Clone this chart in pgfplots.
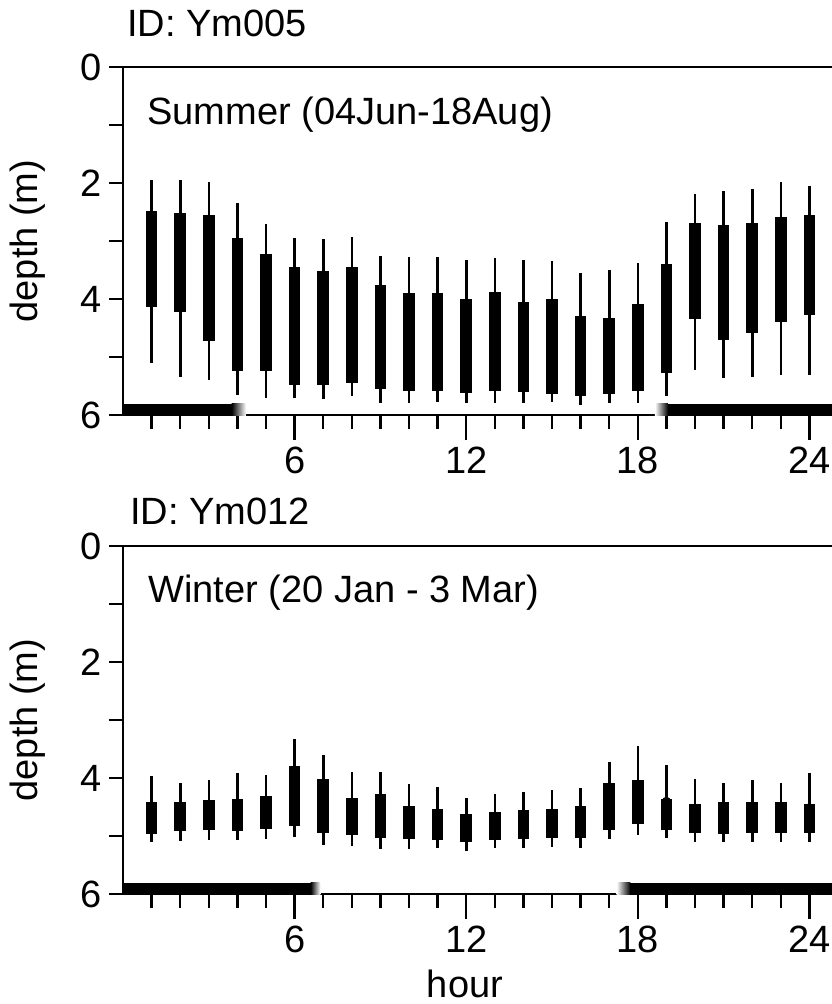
\documentclass[border=0pt]{standalone}
\usepackage{fontspec}
\setmainfont{Liberation Sans}
\usepackage{pgfplots}
\usepackage{pgfplotstable}
\pgfplotsset{compat=1.18}

\pgfplotstableread{
h wt bt bb wb
1 1.95 2.49 4.13 5.10
2 1.95 2.52 4.22 5.34
3 1.98 2.55 4.72 5.40
4 2.34 2.95 5.25 5.66
5 2.71 3.22 5.25 5.71
6 2.95 3.45 5.48 5.71
7 2.97 3.52 5.48 5.72
8 2.93 3.45 5.45 5.67
9 3.25 3.75 5.55 5.79
10 3.27 3.90 5.58 5.80
11 3.27 3.90 5.58 5.78
12 3.33 4.00 5.62 5.80
13 3.30 3.88 5.58 5.80
14 3.33 4.05 5.60 5.80
15 3.35 4.00 5.63 5.78
16 3.55 4.30 5.68 5.83
17 3.50 4.32 5.63 5.80
18 3.38 4.08 5.58 5.80
19 2.67 3.40 5.28 5.67
20 2.19 2.69 4.34 5.22
21 2.14 2.72 4.70 5.36
22 2.10 2.69 4.58 5.34
23 1.98 2.58 4.40 5.31
24 2.05 2.55 4.28 5.31
}\summer

\pgfplotstableread{
h wt bt bb wb
1 3.97 4.42 4.96 5.11
2 4.08 4.41 4.92 5.09
3 4.03 4.38 4.90 5.07
4 3.92 4.36 4.92 5.07
5 3.94 4.31 4.88 5.06
6 3.33 3.80 4.82 5.02
7 3.60 4.02 4.94 5.15
8 3.89 4.34 4.99 5.17
9 3.89 4.28 5.03 5.23
10 4.11 4.48 5.05 5.23
11 4.15 4.53 5.07 5.20
12 4.34 4.62 5.10 5.26
13 4.28 4.58 5.07 5.21
14 4.24 4.56 5.05 5.21
15 4.21 4.54 5.03 5.19
16 4.17 4.48 5.03 5.20
17 3.73 4.08 4.90 5.06
18 3.44 4.03 4.79 4.99
19 3.77 4.36 4.90 5.03
20 4.02 4.44 4.94 5.10
21 4.08 4.42 4.96 5.10
22 4.04 4.41 4.94 5.10
23 4.08 4.42 4.94 5.10
24 3.92 4.45 4.94 5.10
}\winter

\newcommand\bigfont{\fontsize{19}{22}\selectfont}

\pgfplotsset{
  frame/.style={
    scale only axis, width=356.07pt, height=174pt,
    xmin=0, xmax=24.9, ymin=0, ymax=6, y dir=reverse,
    tick align=outside,
    tick style={line width=1.2pt, black},
    xtick pos=left, ytick pos=left,
    tick label style={font=\bigfont},
    /pgf/number format/assume math mode=true,
  },
  panel/.style={frame,
    axis line style={line width=1.2pt},
    xtick={1,...,24}, xticklabels={},
    ytick={0,1,...,6}, yticklabels={0,,2,,4,,6},
    major tick length=7pt,
  },
  majorx/.style={frame,
    axis line style={draw=none},
    xtick={6,12,18,24}, ytick=\empty,
    major tick length=12.5pt,
  },
  whisk/.style={only marks, mark=none, forget plot,
    error bars/.cd, y dir=both, y explicit,
    error bar style={line width=1.3pt, black}, error mark=none},
  boxs/.style={only marks, mark=none, forget plot,
    error bars/.cd, y dir=both, y explicit,
    error bar style={line width=5.8pt, black}, error mark=none},
}

\begin{document}
\begin{tikzpicture}
\path[use as bounding box] (0,0) rectangle (415.5pt,-502pt);

\begin{axis}[panel, at={(239.535pt,-120.5pt)}, anchor=center]
  \addplot[fill=black, draw=none] coordinates {(0,5.81) (3.8,5.81) (3.8,6) (0,6)} --cycle;
  \addplot[left color=black, right color=white, draw=none] coordinates {(3.8,5.81) (4.3,5.81) (4.3,6) (3.8,6)} --cycle;
  \addplot[left color=white, right color=black, draw=none] coordinates {(18.6,5.81) (19.06,5.81) (19.06,6) (18.6,6)} --cycle;
  \addplot[fill=black, draw=none] coordinates {(19.06,5.81) (24.9,5.81) (24.9,6) (19.06,6)} --cycle;
  \addplot[whisk] table[x=h, y expr=(\thisrow{wt}+\thisrow{wb})/2, y error expr=(\thisrow{wb}-\thisrow{wt})/2] {\summer};
  \addplot[boxs] table[x=h, y expr=(\thisrow{bt}+\thisrow{bb})/2, y error expr=(\thisrow{bb}-\thisrow{bt})/2] {\summer};
\end{axis}
\begin{axis}[majorx, at={(239.535pt,-120.5pt)}, anchor=center]
\end{axis}

\begin{axis}[panel, at={(239.535pt,-360pt)}, anchor=center]
  \addplot[fill=black, draw=none] coordinates {(0,5.81) (6.56,5.81) (6.56,6) (0,6)} --cycle;
  \addplot[left color=black, right color=white, draw=none] coordinates {(6.56,5.81) (6.9,5.81) (6.9,6) (6.56,6)} --cycle;
  \addplot[left color=white, right color=black, draw=none] coordinates {(17.26,5.81) (17.74,5.81) (17.74,6) (17.26,6)} --cycle;
  \addplot[fill=black, draw=none] coordinates {(17.74,5.81) (24.9,5.81) (24.9,6) (17.74,6)} --cycle;
  \addplot[whisk] table[x=h, y expr=(\thisrow{wt}+\thisrow{wb})/2, y error expr=(\thisrow{wb}-\thisrow{wt})/2] {\winter};
  \addplot[boxs] table[x=h, y expr=(\thisrow{bt}+\thisrow{bb})/2, y error expr=(\thisrow{bb}-\thisrow{bt})/2] {\winter};
\end{axis}
\begin{axis}[majorx, at={(239.535pt,-360pt)}, anchor=center]
\end{axis}

\node[anchor=base west, font=\bigfont, inner sep=0pt] at (63.5pt,-18.5pt) {ID: Ym005};
\node[anchor=base west, font=\bigfont, inner sep=0pt] at (73.5pt,-62.5pt) {Summer (04Jun-18Aug)};
\node[anchor=base west, font=\bigfont, inner sep=0pt] at (65pt,-262pt) {ID: Ym012};
\node[anchor=base west, font=\bigfont, inner sep=0pt] at (74pt,-301pt) {Winter (20 Jan - 3 Mar)};
\node[rotate=90, font=\bigfont, inner sep=0pt] at (14pt,-120.5pt) {depth (m)};
\node[rotate=90, font=\bigfont, inner sep=0pt] at (14pt,-360pt) {depth (m)};
\node[anchor=base, font=\bigfont, inner sep=0pt] at (232.5pt,-498.5pt) {hour};
\end{tikzpicture}
\end{document}
